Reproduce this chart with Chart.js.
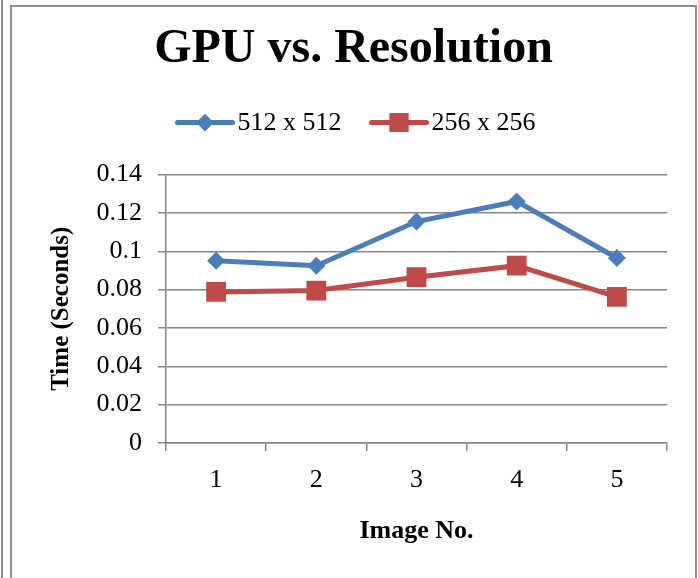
<!DOCTYPE html>
<html>
<head>
<meta charset="utf-8">
<script src="https://cdn.jsdelivr.net/npm/chart.js@4"></script>
<style>
    html, body { margin: 0; padding: 0; background: #fff; }
    body { width: 698px; height: 578px; position: relative; overflow: hidden; }
    .edge { position: absolute; left: 1px; top: 0; width: 2px; height: 578px; background: #8f8f8f; }
    .frame {
        position: absolute; left: 10px; top: 5px; width: 683px; height: 580px;
        border: 2px solid #8f8f8f; border-bottom: none;
    }
    .frame canvas { display: block; }
</style>
</head>
<body>
<div class="edge"></div>
<div class="frame"><canvas id="gpu-chart" width="683" height="571"></canvas></div>
<script>
const imageNos = ['1', '2', '3', '4', '5'];
const time512 = [0.095, 0.0925, 0.1155, 0.126, 0.0965];
const time256 = [0.0788, 0.0795, 0.0865, 0.0925, 0.0762];
const yTicks = [0, 0.02, 0.04, 0.06, 0.08, 0.1, 0.12, 0.14];

const BLUE = '#4a7ebb';
const RED = '#be4b48';
const GRID = '#868686';
const SERIF = "'Liberation Serif', 'Times New Roman', serif";

// legend drawn by hand: short line with the marker in its middle, then the label
const lineLegend = {
    id: 'lineLegend',
    afterDraw(chart) {
        const ctx = chart.ctx;
        const sets = chart.data.datasets;
        const lineLen = 55, gap = 5, itemGap = 30;
        ctx.save();
        ctx.font = '26px ' + SERIF;
        const widths = sets.map(ds => ctx.measureText(ds.label).width);
        let total = 0;
        sets.forEach((ds, i) => { total += lineLen + gap + widths[i] + (i ? itemGap : 0); });
        let x = chart.width / 2 - total / 2 + 3;
        const y = chart.chartArea.top - 52;
        sets.forEach((ds, i) => {
            ctx.strokeStyle = ds.borderColor;
            ctx.lineWidth = ds.borderWidth;
            ctx.lineCap = 'round';
            ctx.beginPath();
            ctx.moveTo(x, y);
            ctx.lineTo(x + lineLen, y);
            ctx.stroke();
            ctx.fillStyle = ds.backgroundColor;
            Chart.helpers.drawPoint(ctx, {
                pointStyle: ds.pointStyle,
                radius: ds.pointRadius * 0.95,
                borderWidth: 0
            }, x + lineLen / 2, y);
            ctx.fill();
            ctx.fillStyle = '#000';
            ctx.textAlign = 'left';
            ctx.textBaseline = 'middle';
            ctx.fillText(ds.label, x + lineLen + gap, y + 1);
            x += lineLen + gap + widths[i] + itemGap;
        });
        ctx.restore();
    }
};

const ctx = document.getElementById('gpu-chart').getContext('2d');

new Chart(ctx, {
    type: 'line',
    data: {
        labels: imageNos,
        datasets: [
            {
                label: '512 x 512',
                data: time512,
                borderColor: BLUE,
                backgroundColor: BLUE,
                borderWidth: 5,
                tension: 0,
                pointStyle: 'rectRot',
                pointRadius: 9,
                pointHoverRadius: 9,
                pointBorderWidth: 0
            },
            {
                label: '256 x 256',
                data: time256,
                borderColor: RED,
                backgroundColor: RED,
                borderWidth: 5,
                tension: 0,
                pointStyle: 'rect',
                pointRadius: 14,
                pointHoverRadius: 14,
                pointBorderWidth: 0
            }
        ]
    },
    options: {
        responsive: false,
        animation: false,
        layout: {
            padding: 0
        },
        plugins: {
            legend: { display: false },
            tooltip: { enabled: false },
            title: {
                display: true,
                text: 'GPU vs. Resolution',
                color: '#000',
                font: { family: SERIF, size: 48, weight: 'bold' },
                padding: { top: 14, bottom: 96 }
            }
        },
        scales: {
            x: {
                offset: true,
                grid: {
                    offset: true,
                    drawOnChartArea: false,
                    drawTicks: true,
                    tickLength: 8,
                    color: GRID,
                    lineWidth: 1.5
                },
                border: { color: GRID, width: 1.5 },
                ticks: {
                    color: '#000',
                    padding: 14,
                    font: { family: SERIF, size: 26 }
                },
                title: {
                    display: true,
                    text: 'Image No.',
                    color: '#000',
                    font: { family: SERIF, size: 26, weight: 'bold' },
                    padding: { top: 0, bottom: 31 }
                },
                afterFit(scale) { scale.height = 135; }
            },
            y: {
                min: 0,
                max: 0.14,
                afterBuildTicks(scale) {
                    scale.ticks = yTicks.map(v => ({ value: v }));
                },
                grid: {
                    color: GRID,
                    lineWidth: 1.5,
                    tickLength: 8
                },
                border: { color: GRID, width: 1.5 },
                ticks: {
                    color: '#000',
                    padding: 16,
                    font: { family: SERIF, size: 26 },
                    callback: function(value) {
                        return String(Math.round(value * 100) / 100);
                    }
                },
                title: {
                    display: true,
                    text: 'Time (Seconds)',
                    color: '#000',
                    font: { family: SERIF, size: 25, weight: 'bold' },
                    padding: { top: 35, bottom: 0 }
                },
                afterFit(scale) { scale.width = 154; }
            },
            // empty right-hand axis, only to keep space right of the plot
            yRight: {
                position: 'right',
                min: 0,
                max: 0.14,
                grid: { display: false },
                border: { display: false },
                ticks: { display: false },
                afterFit(scale) { scale.width = 28; }
            }
        }
    },
    plugins: [lineLegend]
});
</script>
</body>
</html>
